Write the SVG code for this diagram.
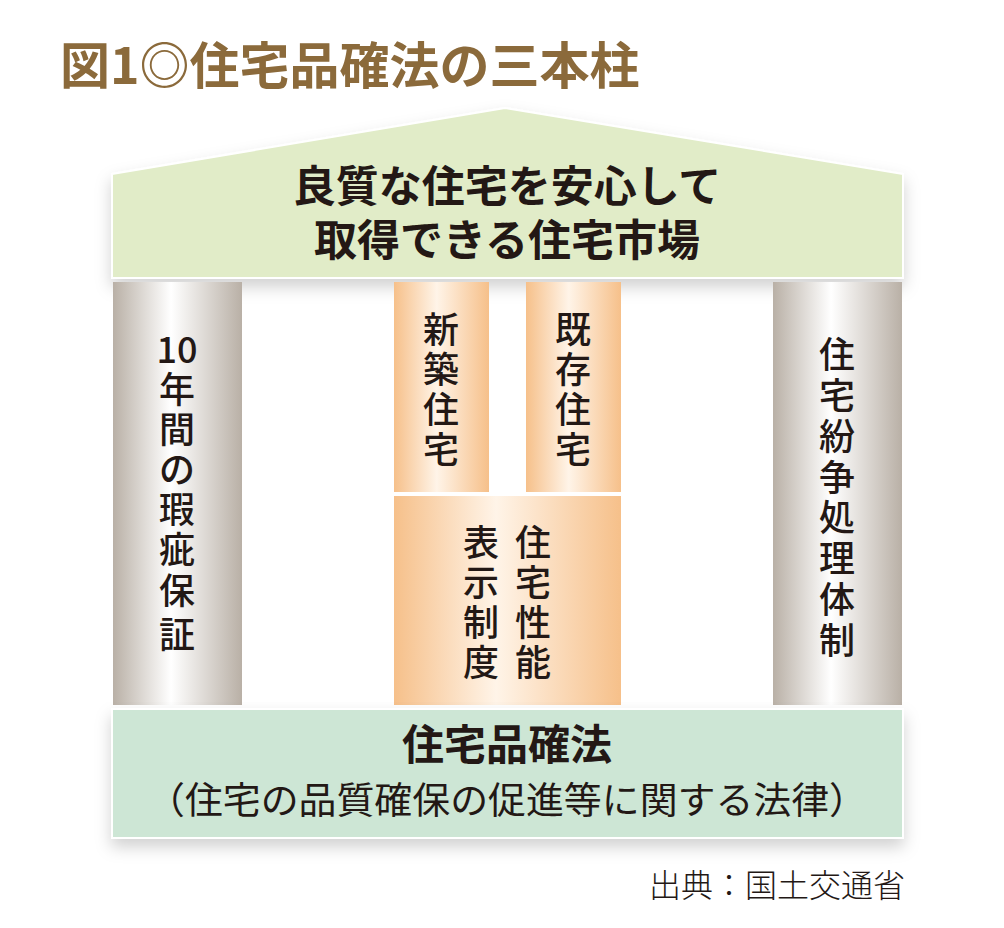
<svg xmlns="http://www.w3.org/2000/svg" width="1004" height="928" viewBox="0 0 1004 928">
<defs>
<linearGradient id="g" x1="0" x2="1" y1="0" y2="0"><stop offset="0" stop-color="#b9b0a6"/><stop offset="0.45" stop-color="#ffffff"/><stop offset="1" stop-color="#b9b0a6"/></linearGradient>
<linearGradient id="o" x1="0" x2="1" y1="0" y2="0"><stop offset="0" stop-color="#f6c08a"/><stop offset="0.45" stop-color="#fff4e8"/><stop offset="1" stop-color="#f6c08a"/></linearGradient>
<filter id="sh" x="-5%" y="-5%" width="110%" height="130%"><feDropShadow dx="0" dy="8" stdDeviation="8" flood-color="#000" flood-opacity="0.18"/></filter>
<style>
text{font-family:"Noto Sans CJK JP","Noto Sans",sans-serif;fill:#231815;text-anchor:middle}
.b{font-weight:bold}
.v{font-size:36px;font-weight:500}
</style>
</defs>
<rect width="1004" height="928" fill="#fff"/>
<text x="60" y="84" style="text-anchor:start;font-size:50px;font-weight:bold;fill:#8b6a3b">図1◎住宅品確法の三本柱</text>
<g id="roof"><polygon points="112,174 505,108 903,174 903,278 112,278" fill="#e1ecc8" stroke="#fff" stroke-width="2" filter="url(#sh)"/>
<text x="507" y="202" class="b" font-size="43">良質な住宅を安心して</text>
<text x="507" y="256" class="b" font-size="43">取得できる住宅市場</text></g>
<g id="pillar-left"><rect x="113" y="282" width="129" height="423" fill="url(#g)"/>
<text x="177" y="363" class="v">10</text><text x="177" y="403" class="v">年</text><text x="177" y="443" class="v">間</text><text x="177" y="483" class="v">の</text><text x="177" y="523" class="v">瑕</text><text x="177" y="563" class="v">疵</text><text x="177" y="604" class="v">保</text><text x="177" y="648" class="v">証</text></g>
<g id="pillar-right"><rect x="773" y="282" width="129" height="423" fill="url(#g)"/>
<text x="837" y="368" class="v">住</text><text x="837" y="409" class="v">宅</text><text x="837" y="450" class="v">紛</text><text x="837" y="491" class="v">争</text><text x="837" y="531" class="v">処</text><text x="837" y="572" class="v">理</text><text x="837" y="613" class="v">体</text><text x="837" y="654" class="v">制</text></g>
<g id="new"><rect x="394" y="282" width="95" height="210" fill="url(#o)"/>
<text x="441" y="343" class="v">新</text><text x="441" y="383" class="v">築</text><text x="441" y="423" class="v">住</text><text x="441" y="463" class="v">宅</text></g>
<g id="existing"><rect x="526" y="282" width="95" height="210" fill="url(#o)"/>
<text x="573" y="343" class="v">既</text><text x="573" y="383" class="v">存</text><text x="573" y="423" class="v">住</text><text x="573" y="463" class="v">宅</text></g>
<g id="perf"><rect x="394" y="496" width="227" height="209" fill="url(#o)"/>
<text x="533" y="556" class="v">住</text><text x="533" y="596" class="v">宅</text><text x="533" y="636" class="v">性</text><text x="533" y="676" class="v">能</text>
<text x="481" y="556" class="v">表</text><text x="481" y="596" class="v">示</text><text x="481" y="636" class="v">制</text><text x="481" y="676" class="v">度</text></g>
<g id="base"><rect x="112" y="709" width="791" height="129" fill="#cde6d5" stroke="#fff" stroke-width="2" filter="url(#sh)"/>
<text x="507" y="760" class="b" font-size="42">住宅品確法</text>
<text x="507" y="814" font-size="37" textLength="720" lengthAdjust="spacingAndGlyphs">（住宅の品質確保の促進等に関する法律）</text></g>
<text x="905" y="897" style="text-anchor:end;font-size:32px;font-weight:300">出典：国土交通省</text>
<g id="connectors"/>
</svg>
